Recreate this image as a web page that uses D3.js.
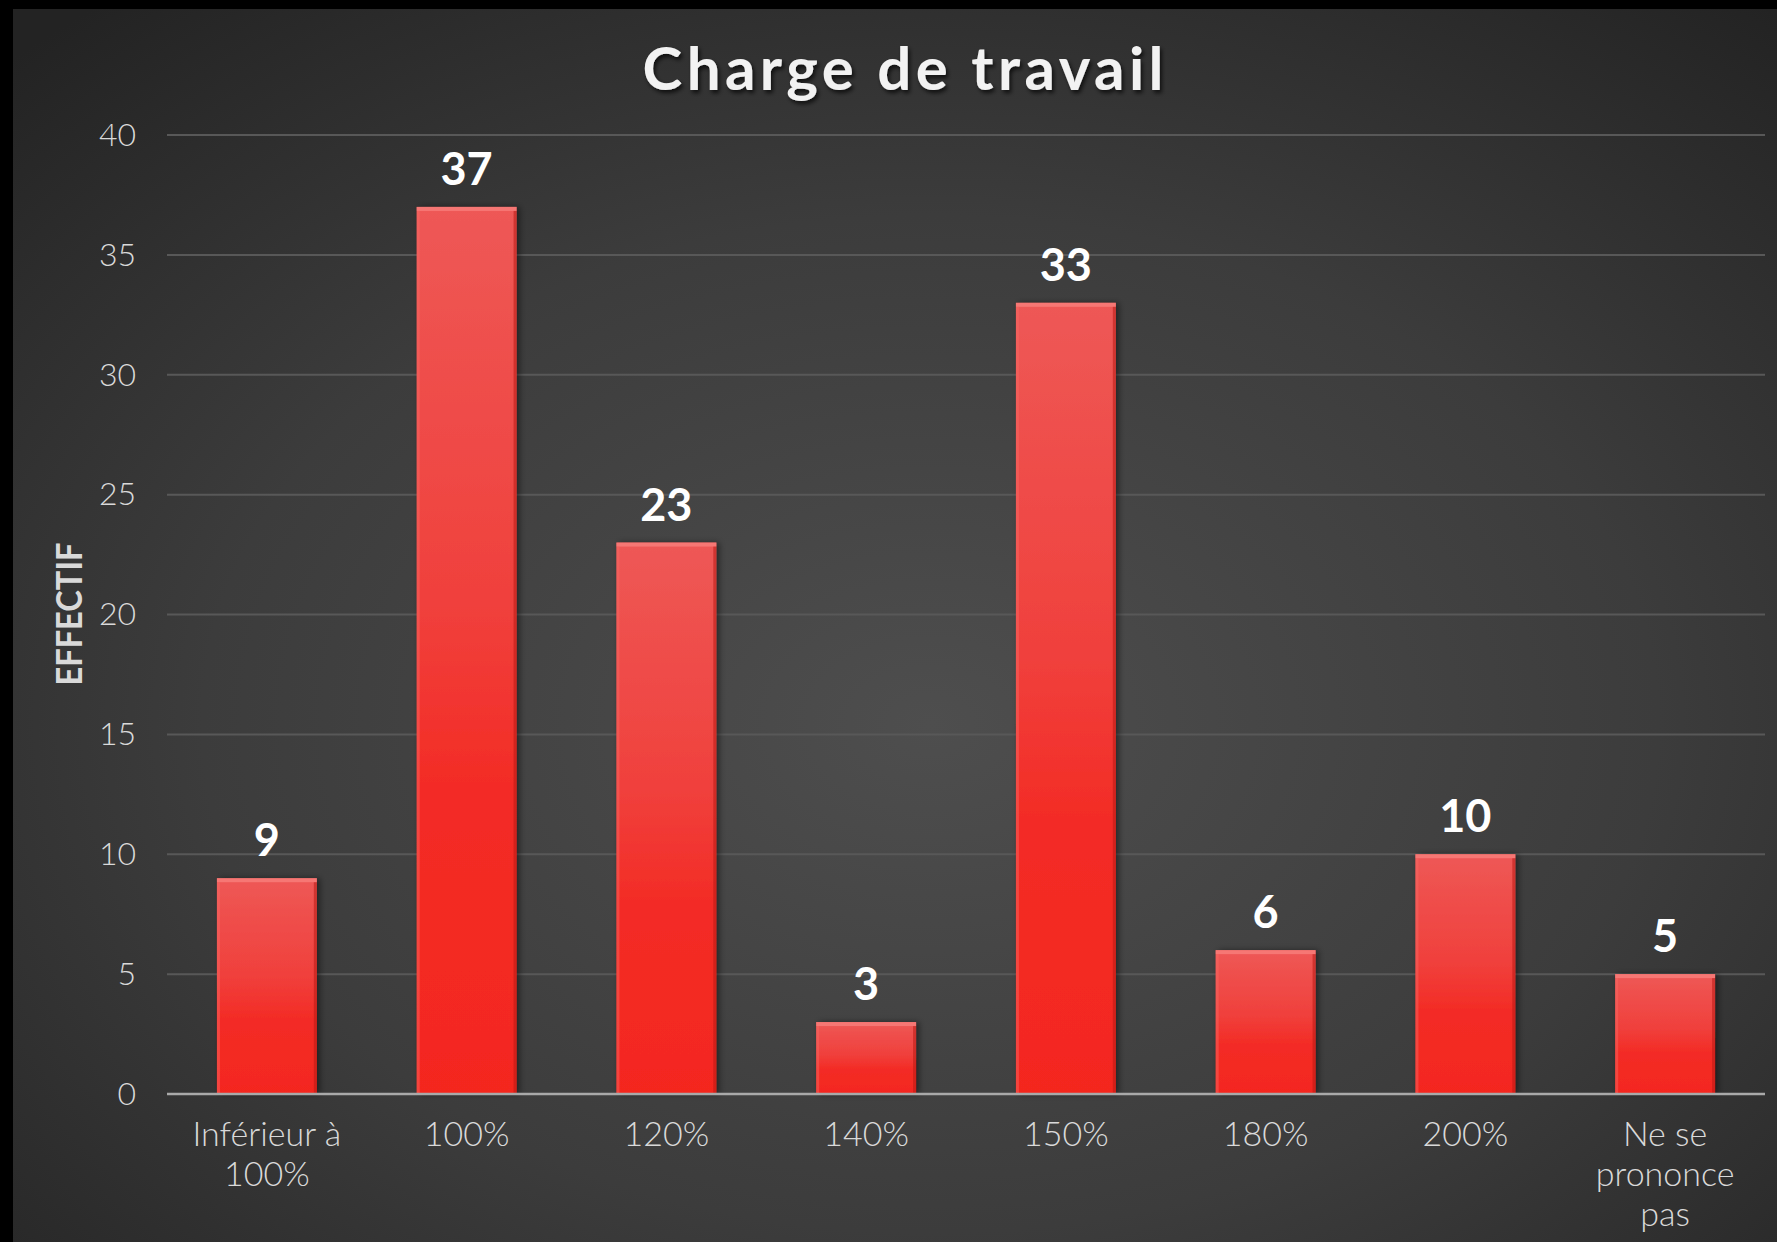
<!DOCTYPE html>
<html>
<head>
<meta charset="utf-8">
<script src="https://cdn.jsdelivr.net/npm/d3@7"></script>
<style>
  html, body { margin: 0; padding: 0; background: #000; }
  svg { display: block; }
</style>
</head>
<body>
<div id="chart"></div>
<script>
const width = 1777, height = 1242;
const margin = { top: 135, right: 12, bottom: 148, left: 167 };

const title = "Charge de travail";
const yTitle = "EFFECTIF";
const categories = ["Inférieur à\n100%", "100%", "120%", "140%", "150%", "180%", "200%", "Ne se\nprononce\npas"];
const values = [9, 37, 23, 3, 33, 6, 10, 5];
const yTicks = [0, 5, 10, 15, 20, 25, 30, 35, 40];

const svg = d3.select("#chart").append("svg")
  .attr("width", width).attr("height", height);

const defs = svg.append("defs");

// background panel gradient
const bg = defs.append("radialGradient").attr("id", "bg")
  .attr("cx", "52%").attr("cy", "58%").attr("r", "75%");
bg.append("stop").attr("offset", "0%").attr("stop-color", "#4e4e4e");
bg.append("stop").attr("offset", "55%").attr("stop-color", "#3c3c3c");
bg.append("stop").attr("offset", "100%").attr("stop-color", "#232323");

// bar gradient
const bg2 = defs.append("linearGradient").attr("id", "barFill")
  .attr("x1", 0).attr("y1", 0).attr("x2", 0).attr("y2", 1);
bg2.append("stop").attr("offset", "0%").attr("stop-color", "#ee5856");
bg2.append("stop").attr("offset", "45%").attr("stop-color", "#f0403c");
bg2.append("stop").attr("offset", "65%").attr("stop-color", "#f32c26");
bg2.append("stop").attr("offset", "100%").attr("stop-color", "#f4271f");

const shadow = defs.append("filter").attr("id", "barShadow")
  .attr("x", "-20%").attr("y", "-10%").attr("width", "140%").attr("height", "120%");
shadow.append("feDropShadow").attr("dx", 3).attr("dy", 0).attr("stdDeviation", 3)
  .attr("flood-color", "#000").attr("flood-opacity", 0.45);

const tshadow = defs.append("filter").attr("id", "textShadow")
  .attr("x", "-10%").attr("y", "-30%").attr("width", "120%").attr("height", "160%");
tshadow.append("feDropShadow").attr("dx", 2).attr("dy", 3).attr("stdDeviation", 2)
  .attr("flood-color", "#000").attr("flood-opacity", 0.7);

svg.append("rect").attr("x", 13).attr("y", 9)
  .attr("width", width - 13).attr("height", height - 9)
  .attr("fill", "url(#bg)");

const x = d3.scaleBand()
  .domain(categories)
  .range([margin.left, width - margin.right])
  .paddingInner(0.5).paddingOuter(0.25);

const y = d3.scaleLinear()
  .domain([0, 40])
  .range([height - margin.bottom, margin.top]);

// gridlines
svg.append("g")
  .selectAll("line")
  .data(yTicks.filter(d => d > 0))
  .join("line")
  .attr("x1", margin.left).attr("x2", width - margin.right)
  .attr("y1", d => y(d)).attr("y2", d => y(d))
  .attr("stroke", "#585858").attr("stroke-width", 2);

// y axis labels
const yAxis = d3.axisLeft(y).tickValues(yTicks).tickSize(0).tickPadding(31);
const yg = svg.append("g").attr("transform", `translate(${margin.left},0)`).call(yAxis);
yg.select(".domain").remove();
yg.selectAll("text")
  .attr("fill", "#d9d9d9")
  .style("font-family", "Lato, 'Open Sans', sans-serif")
  .style("font-weight", 300)
  .style("font-size", "32px");

// bars
const bars = svg.append("g");
bars.selectAll("rect.bar")
  .data(values)
  .join("rect")
  .attr("class", "bar")
  .attr("x", (d, i) => x(categories[i]))
  .attr("y", d => y(d))
  .attr("width", x.bandwidth())
  .attr("height", d => y(0) - y(d))
  .attr("fill", "url(#barFill)")
  .attr("filter", "url(#barShadow)");

// bevel: light top edge, darker right edge
bars.selectAll("rect.top")
  .data(values)
  .join("rect")
  .attr("class", "top")
  .attr("x", (d, i) => x(categories[i]))
  .attr("y", d => y(d))
  .attr("width", x.bandwidth())
  .attr("height", 4)
  .attr("fill", "#f77f7c").attr("opacity", 0.8);
bars.selectAll("rect.right")
  .data(values)
  .join("rect")
  .attr("class", "right")
  .attr("x", (d, i) => x(categories[i]) + x.bandwidth() - 3)
  .attr("y", d => y(d) + 4)
  .attr("width", 3)
  .attr("height", d => y(0) - y(d) - 4)
  .attr("fill", "#b81a14").attr("opacity", 0.55);
bars.selectAll("rect.left")
  .data(values)
  .join("rect")
  .attr("class", "left")
  .attr("x", (d, i) => x(categories[i]))
  .attr("y", d => y(d) + 4)
  .attr("width", 3)
  .attr("height", d => y(0) - y(d) - 4)
  .attr("fill", "#f86a66").attr("opacity", 0.45);

// baseline
svg.append("line")
  .attr("x1", margin.left).attr("x2", width - margin.right)
  .attr("y1", y(0)).attr("y2", y(0))
  .attr("stroke", "#a9a9a9").attr("stroke-width", 2.5);

// value labels
svg.append("g")
  .selectAll("text")
  .data(values)
  .join("text")
  .attr("x", (d, i) => x(categories[i]) + x.bandwidth() / 2)
  .attr("y", d => y(d) - 22)
  .attr("text-anchor", "middle")
  .attr("fill", "#ffffff")
  .style("font-family", "Lato, 'Open Sans', sans-serif")
  .style("font-weight", 700)
  .style("font-size", "45px")
  .text(d => d);

// x labels
const xl = svg.append("g")
  .selectAll("text")
  .data(categories)
  .join("text")
  .attr("x", d => x(d) + x.bandwidth() / 2)
  .attr("y", 1146)
  .attr("text-anchor", "middle")
  .attr("fill", "#d9d9d9")
  .style("font-family", "Lato, 'Open Sans', sans-serif")
  .style("font-weight", 300)
  .style("font-size", "34px");
xl.selectAll("tspan")
  .data(d => d.split("\n"))
  .join("tspan")
  .attr("x", function () { return d3.select(this.parentNode).attr("x"); })
  .attr("dy", (d, i) => i === 0 ? 0 : 40)
  .text(d => d);

// y title
svg.append("text")
  .attr("transform", "translate(82,614) rotate(-90)")
  .attr("text-anchor", "middle")
  .attr("fill", "#d9d9d9")
  .style("font-family", "Lato, 'Open Sans', sans-serif")
  .style("font-weight", 700)
  .style("font-size", "36px")
  .attr("textLength", 143).attr("lengthAdjust", "spacingAndGlyphs")
  .text(yTitle);

// title
svg.append("text")
  .attr("x", 903).attr("y", 90)
  .attr("text-anchor", "middle")
  .attr("fill", "#f2f2f2")
  .attr("filter", "url(#textShadow)")
  .style("font-family", "Lato, 'Open Sans', sans-serif")
  .style("font-weight", 700)
  .style("font-size", "60px")
  .attr("textLength", 521).attr("lengthAdjust", "spacing")
  .text(title);
</script>
</body>
</html>
